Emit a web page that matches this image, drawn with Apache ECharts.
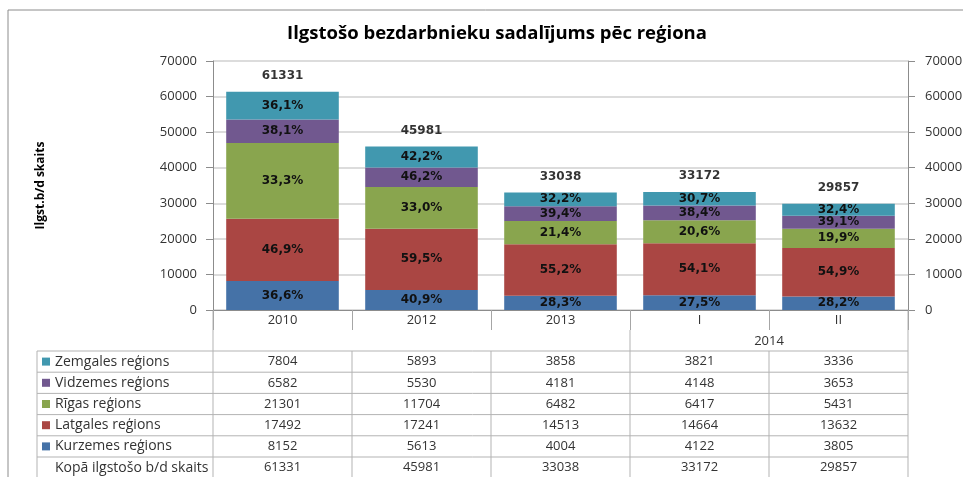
<!DOCTYPE html>
<html>
<head>
<meta charset="utf-8">
<script src="https://cdn.jsdelivr.net/npm/echarts@6/dist/echarts.min.js"></script>
<style>
  html, body { margin: 0; padding: 0; background: #fff; }
  #main { width: 963px; height: 477px; }
</style>
</head>
<body>
<div id="main"></div>
<script>
// dati
const categories = ['2010', '2012', '2013', 'I', 'II'];
const groupLabel = '2014';
const regionNames = ['Zemgales reģions', 'Vidzemes reģions', 'Rīgas reģions', 'Latgales reģions', 'Kurzemes reģions'];
const totalName = 'Kopā ilgstošo b/d skaits';

const zemgales = [7804, 5893, 3858, 3821, 3336];
const vidzemes = [6582, 5530, 4181, 4148, 3653];
const rigas = [21301, 11704, 6482, 6417, 5431];
const latgales = [17492, 17241, 14513, 14664, 13632];
const kurzemes = [8152, 5613, 4004, 4122, 3805];
const totals = [61331, 45981, 33038, 33172, 29857];

// procenti uz stabiņiem
const zemgalesPct = ['36,1%', '42,2%', '32,2%', '30,7%', '32,4%'];
const vidzemesPct = ['38,1%', '46,2%', '39,4%', '38,4%', '39,1%'];
const rigasPct = ['33,3%', '33,0%', '21,4%', '20,6%', '19,9%'];
const latgalesPct = ['46,9%', '59,5%', '55,2%', '54,1%', '54,9%'];
const kurzemesPct = ['36,6%', '40,9%', '28,3%', '27,5%', '28,2%'];

const colors = {
  zemgales: '#4198AF',
  vidzemes: '#71588F',
  rigas: '#89A54E',
  latgales: '#AA4643',
  kurzemes: '#4572A7'
};

const chart = echarts.init(document.getElementById('main'));
const font = '"Open Sans", "Liberation Sans", sans-serif';

function barSeries(name, data, pct, color) {
  return {
    name: name,
    type: 'bar',
    stack: 'kopa',
    barCategoryGap: '19%',
    data: data,
    silent: true,
    itemStyle: { color: color },
    label: {
      show: true,
      position: 'inside',
      formatter: p => pct[p.dataIndex],
      color: '#111',
      fontFamily: '"DejaVu Sans", Verdana, sans-serif',
      fontWeight: 'bold',
      fontSize: 12
    }
  };
}

const yAxisBase = {
  type: 'value',
  min: 0,
  max: 70000,
  interval: 10000,
  axisLine: { show: true, lineStyle: { color: '#8c8c8c' } },
  axisTick: { show: true, length: 7, lineStyle: { color: '#8c8c8c' } },
  axisLabel: { color: '#333', fontSize: 13, fontFamily: font, formatter: v => String(v) }
};

chart.setOption({
  animation: false,
  title: {
    text: 'Ilgstošo bezdarbnieku sadalījums pēc reģiona',
    left: 492,
    top: 19,
    textAlign: 'center',
    textStyle: { fontSize: 18.5, fontWeight: 'bold', color: '#000', fontFamily: font }
  },
  grid: { left: 213, right: 55, top: 61, bottom: 167, outerBoundsMode: 'none' },
  xAxis: {
    type: 'category',
    data: categories,
    axisLine: { show: true, lineStyle: { color: '#8c8c8c' } },
    axisTick: { show: true, length: 20, interval: 0, lineStyle: { color: '#a6a6a6' } },
    axisLabel: { color: '#333', fontSize: 13, fontFamily: font, margin: 4 }
  },
  yAxis: [
    Object.assign({}, yAxisBase, {
      name: 'Ilgst.b/d skaits',
      nameLocation: 'middle',
      nameGap: 166,
      nameRotate: 90,
      nameTextStyle: { fontSize: 12, fontWeight: 'bold', color: '#000', fontFamily: font },
      axisLabel: Object.assign({}, yAxisBase.axisLabel, { margin: 16 }),
      splitLine: { lineStyle: { color: '#d0d0d0', width: 1.5 } }
    }),
    Object.assign({}, yAxisBase, {
      position: 'right',
      axisLabel: Object.assign({}, yAxisBase.axisLabel, { margin: 17 }),
      splitLine: { show: false }
    })
  ],
  series: [
    barSeries(regionNames[4], kurzemes, kurzemesPct, colors.kurzemes),
    barSeries(regionNames[3], latgales, latgalesPct, colors.latgales),
    barSeries(regionNames[2], rigas, rigasPct, colors.rigas),
    barSeries(regionNames[1], vidzemes, vidzemesPct, colors.vidzemes),
    barSeries(regionNames[0], zemgales, zemgalesPct, colors.zemgales),
    {
      name: 'Kopā',
      type: 'scatter',
      data: totals,
      symbolSize: 0,
      silent: true,
      label: {
        show: true,
        position: 'top',
        distance: 10,
        formatter: p => String(totals[p.dataIndex]),
        color: '#000',
        fontFamily: '"DejaVu Sans", Verdana, sans-serif',
        fontWeight: 'bold',
        fontSize: 12
      }
    }
  ]
});

// datu tabula zem grafika
const cx = categories.map((c, i) => chart.convertToPixel({ xAxisIndex: 0 }, i));
const band = cx[1] - cx[0];
const edges = [cx[0] - band / 2].concat(cx.map(x => x + band / 2));
const y0 = chart.convertToPixel({ yAxisIndex: 0 }, 0);
const tableTop = y0 + 41;
const rowH = 21.2;
const tableLeft = 37;
const lineCol = '#b3b3b3';
const rows = [
  { name: regionNames[0], data: zemgales, color: colors.zemgales },
  { name: regionNames[1], data: vidzemes, color: colors.vidzemes },
  { name: regionNames[2], data: rigas, color: colors.rigas },
  { name: regionNames[3], data: latgales, color: colors.latgales },
  { name: regionNames[4], data: kurzemes, color: colors.kurzemes },
  { name: totalName, data: totals, color: null }
];
const tableBottom = tableTop + rows.length * rowH + 4;

const els = [];
function line(x1, y1, x2, y2, color) {
  els.push({ type: 'line', shape: { x1, y1, x2, y2 }, style: { stroke: color || lineCol, lineWidth: 1 }, silent: true });
}
function text(str, x, y, align, size) {
  els.push({
    type: 'text', x: x, y: y, silent: true,
    style: { text: str, fill: '#333', font: (size || 13) + 'px ' + font, align: align || 'center', verticalAlign: 'middle' }
  });
}

// rāmis
line(8, 10, 963, 10, '#8c8c8c');
line(8, 10, 8, 477, '#8c8c8c');

// horizontālās līnijas
for (let k = 0; k <= rows.length; k++) {
  line(tableLeft, tableTop + k * rowH, edges[edges.length - 1], tableTop + k * rowH);
}
// vertikālās līnijas
line(tableLeft, tableTop, tableLeft, tableBottom);
line(edges[0], y0, edges[0], tableBottom);
line(edges[edges.length - 1], y0, edges[edges.length - 1], tableBottom);
for (let k = 1; k < edges.length - 1; k++) {
  line(edges[k], tableTop, edges[k], tableBottom);
}
line(edges[3], y0 + 20, edges[3], tableTop);

// 2014 grupa
text(groupLabel, (cx[3] + cx[4]) / 2, y0 + 31);

rows.forEach((r, ri) => {
  const yc = tableTop + ri * rowH + rowH / 2;
  if (r.color) {
    els.push({ type: 'rect', shape: { x: 42, y: yc - 4, width: 8, height: 8 }, style: { fill: r.color }, silent: true });
  }
  text(r.name, 55, yc, 'left', 14);
  r.data.forEach((v, i) => text(String(v), cx[i], yc));
});

chart.setOption({ graphic: { elements: els } });
</script>
</body>
</html>
